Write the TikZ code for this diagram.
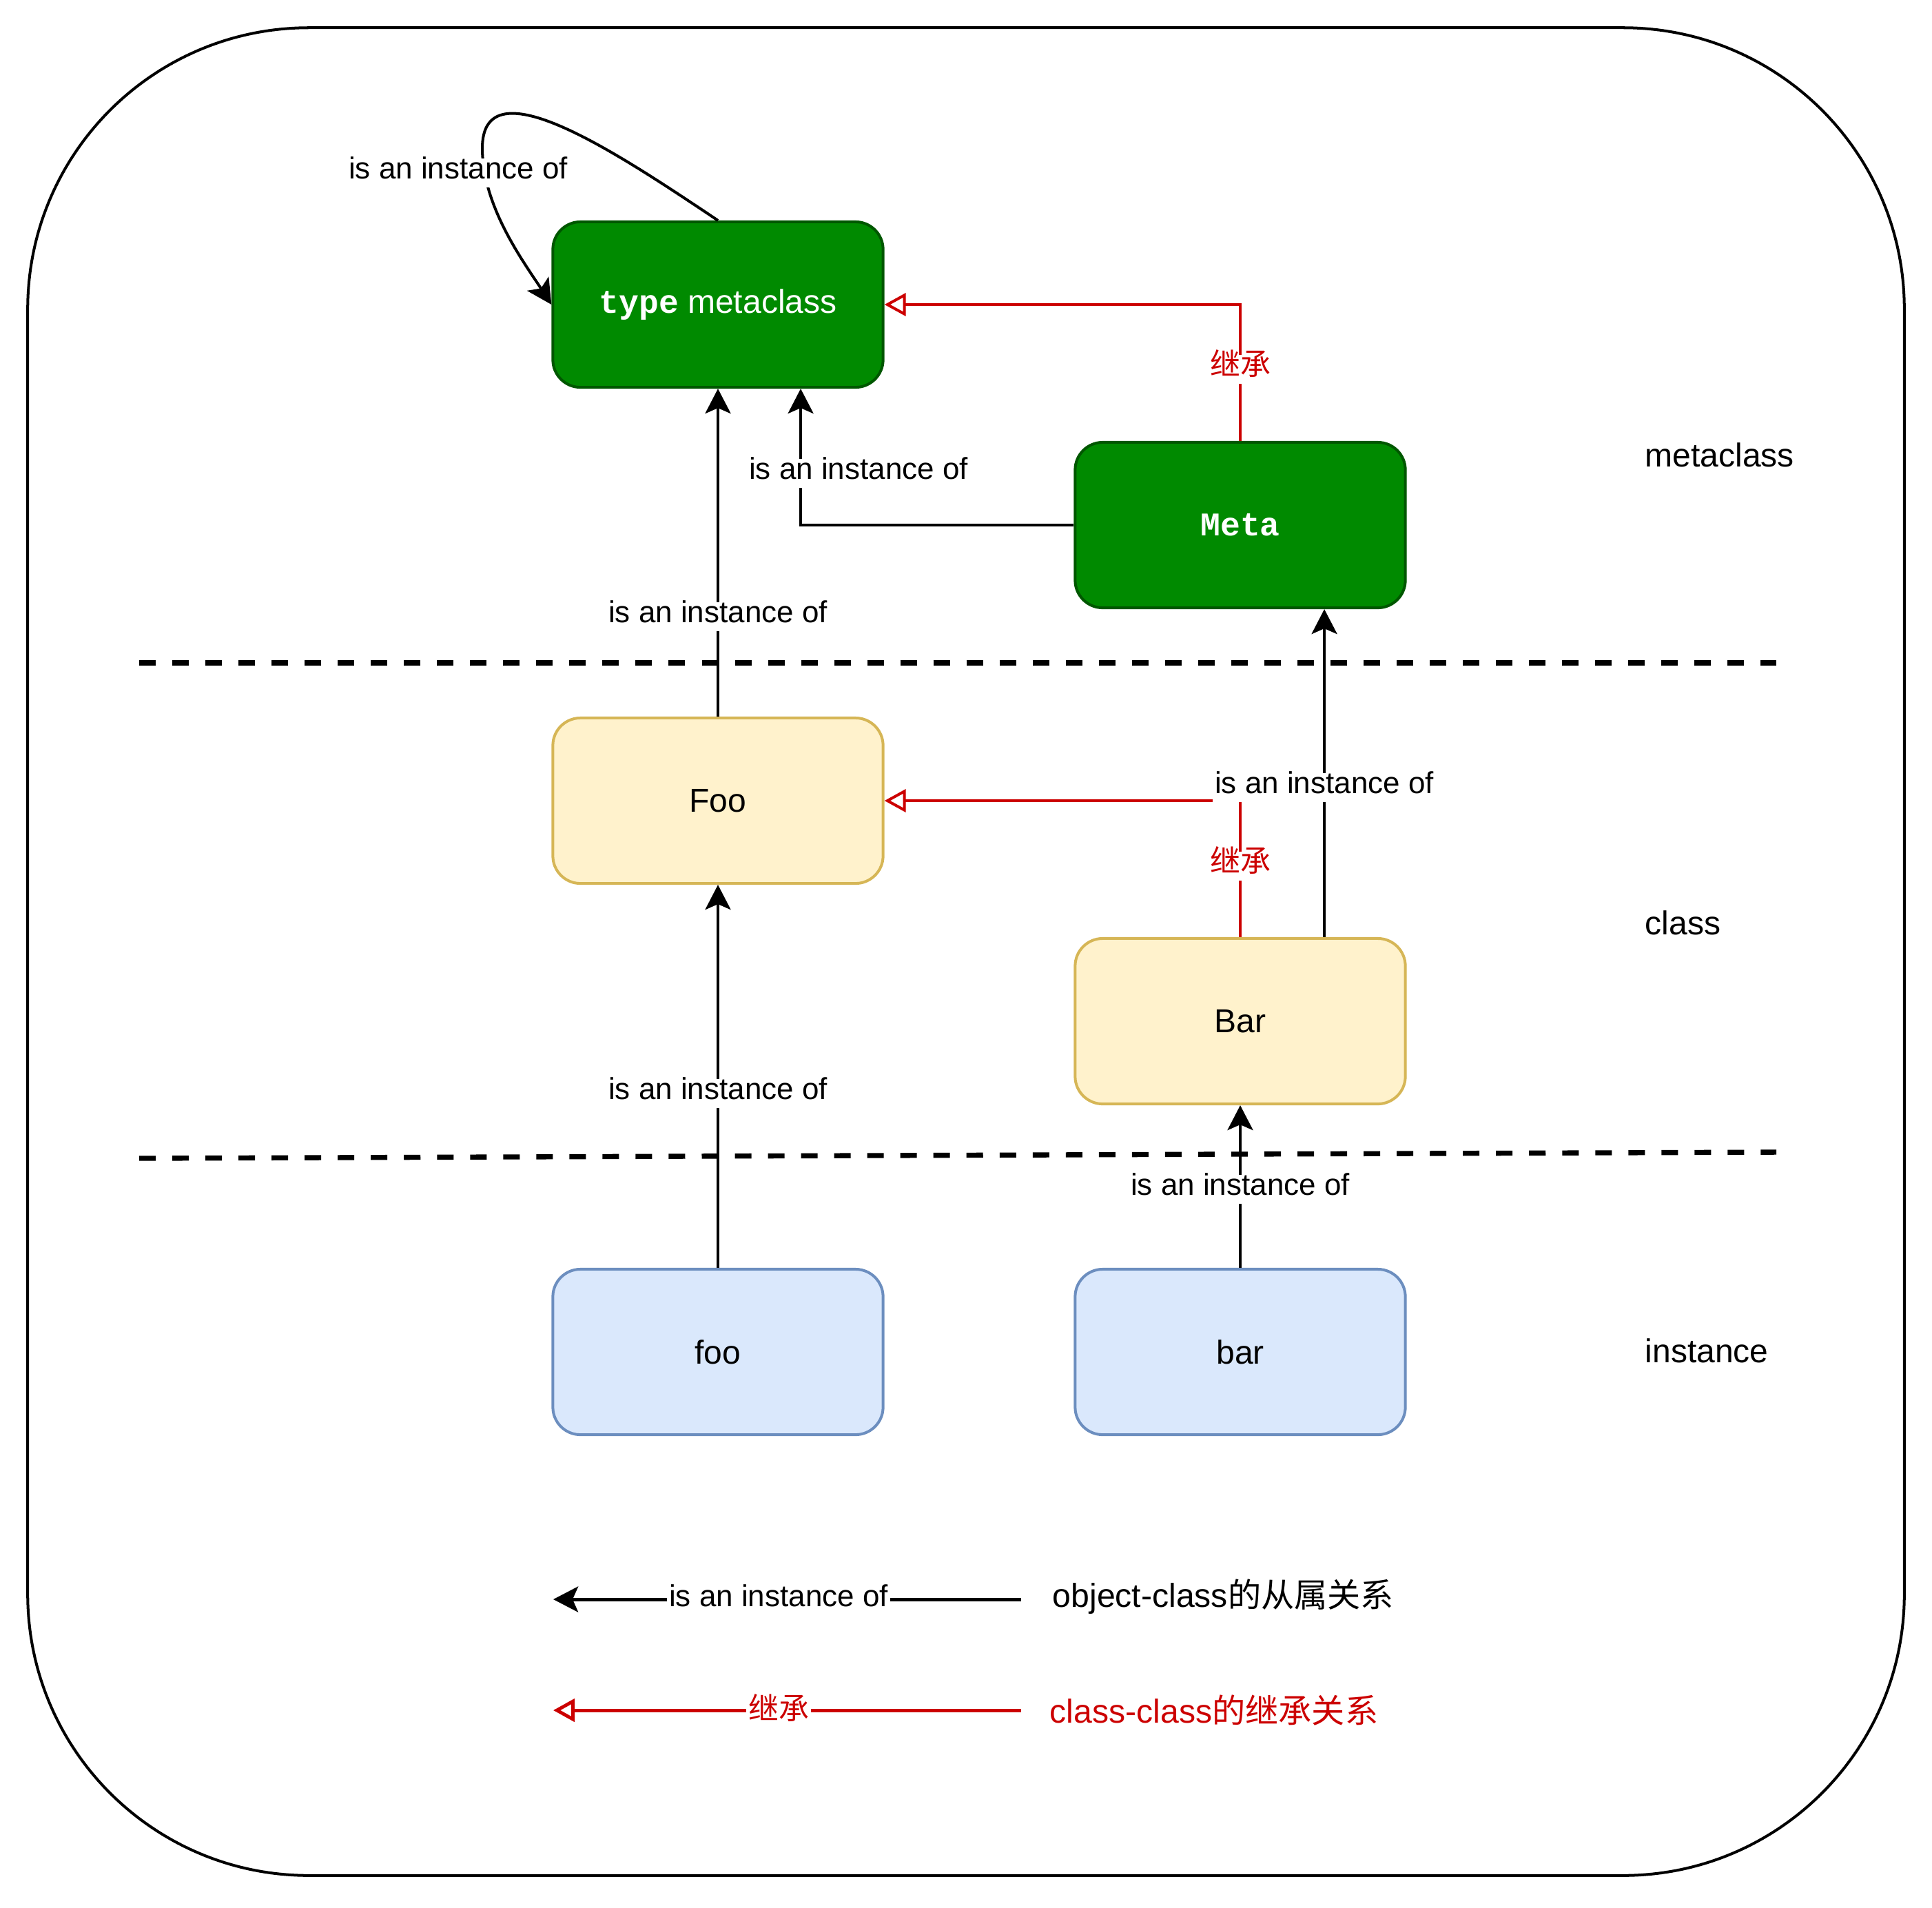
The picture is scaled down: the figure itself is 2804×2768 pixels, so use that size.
\documentclass[tikz,border=0pt]{standalone}
\usepackage{fontspec}
\setmainfont{Liberation Sans}
\newfontfamily\cjk{Noto Sans CJK SC}
\newfontfamily\codefont{Liberation Mono}
\usetikzlibrary{arrows.meta}
\definecolor{gfill}{HTML}{008A00}
\definecolor{gdraw}{HTML}{005700}
\definecolor{yfill}{HTML}{FFF2CC}
\definecolor{ydraw}{HTML}{D6B656}
\definecolor{bfill}{HTML}{DAE8FC}
\definecolor{bdraw}{HTML}{6C8EBF}
\definecolor{inhred}{HTML}{CC0000}
\begin{document}
\begin{tikzpicture}[x=0.01cm,y=-0.01cm,
  box/.style={rectangle, rounded corners=0.4cm, minimum width=4.79cm, minimum height=2.40cm,
    line width=1.14pt, inner sep=0pt, font=\fontsize{13.66}{16}\selectfont},
  greenbox/.style={box, fill=gfill, draw=gdraw, text=white},
  yellowbox/.style={box, fill=yfill, draw=ydraw},
  bluebox/.style={box, fill=bfill, draw=bdraw},
  inst/.style={draw=black, line width=1.14pt, -{Stealth[length=0.36cm, width=0.37cm, inset=0.08cm]}},
  inh/.style={draw=inhred, line width=1.14pt, -{Triangle[open, fill=white, length=0.31cm, width=0.33cm]}},
  lbl/.style={fill=white, inner xsep=1pt, inner ysep=1pt, text height=0.75em, text depth=0.25em,
    font=\fontsize{12.5}{14}\selectfont},
  redlbl/.style={lbl, text=inhred, font=\fontsize{12.5}{14}\selectfont\cjk},
  layer/.style={anchor=west, inner sep=0pt, font=\fontsize{13.66}{16}\selectfont},
  sepline/.style={draw=black, line width=2.1pt, dash pattern=on 0.24cm off 0.24cm},
  legtext/.style={anchor=west, inner sep=0pt, font=\fontsize{13.7}{16}\selectfont}
]
\useasboundingbox (0,0) rectangle (2804,2768);
\fill[white] (0,0) rectangle (2804,2768);

% outer frame
\node[draw=black, line width=1.14pt, rounded corners=4.08cm, minimum width=27.22cm, minimum height=26.80cm, inner sep=0pt] (frame) at (1402,1381) {};

% separator lines
\coordinate (s1a) at (202,962);
\coordinate (s1b) at (2578,962);
\coordinate (s2a) at (202,1681);
\coordinate (s2b) at (2578,1672);
\draw[sepline] (s1a) -- (s1b);
\draw[sepline] (s2a) -- (s2b);

% nodes
\node[greenbox] (tmeta) at (1042,442) {{\codefont\bfseries type} metaclass};
\node[greenbox] (meta) at (1800,762) {{\codefont\bfseries Meta}};
\node[yellowbox] (Foo) at (1042,1162) {Foo};
\node[yellowbox] (Bar) at (1800,1482) {Bar};
\node[bluebox] (foo) at (1042,1962) {foo};
\node[bluebox] (bar) at (1800,1962) {bar};

% layer labels
\node[layer] (lmeta) at (2387,660) {metaclass};
\node[layer] (lclass) at (2387,1339) {class};
\node[layer] (linst) at (2387,1960) {instance};

% inheritance edges
\draw[inh] (meta.north) |- (tmeta.east);
\draw[inh] (Bar.north) |- (Foo.east);

% instance edges
\draw[inst] (tmeta.north) .. controls (900,225) and (700,90) .. (700,215)
  .. controls (700,300) and (760,380) .. (tmeta.west);
\draw[inst] (Foo.north) -- (tmeta.south);
\draw[inst] (meta.west) -| ([xshift=1.2cm]tmeta.south);
\draw[inst] ([xshift=1.22cm]Bar.north) -- ([xshift=1.22cm]meta.south);
\draw[inst] (foo.north) -- (Foo.south);
\draw[inst] (bar.north) -- (Bar.south);

% edge labels
\node[lbl] (l1) at (665,251) {is an instance of};
\node[lbl] (l2) at (1042,895) {is an instance of};
\node[lbl] (l3) at (1246,687) {is an instance of};
\node[redlbl] (l4) at (1800,536) {继承};
\node[lbl] (l5) at (1922,1143) {is an instance of};
\node[redlbl] (l6) at (1800,1257) {继承};
\node[lbl] (l7) at (1042,1587) {is an instance of};
\node[lbl] (l8) at (1800,1726) {is an instance of};

% legend
\coordinate (k1s) at (1482,2321);
\coordinate (k1e) at (803,2321);
\coordinate (k2s) at (1482,2482);
\coordinate (k2e) at (803,2482);
\draw[inst, line width=1.4pt] (k1s) -- (k1e);
\draw[inh, line width=1.4pt] (k2s) -- (k2e);
\node[lbl] (k1l) at (1130,2323) {is an instance of};
\node[redlbl] (k2l) at (1130,2487) {继承};
\node[legtext] (k1t) at (1527,2317) {object-class{\cjk 的从属关系}};
\node[legtext, text=inhred] (k2t) at (1523,2482) {class-class{\cjk 的继承关系}};
\end{tikzpicture}
\end{document}
